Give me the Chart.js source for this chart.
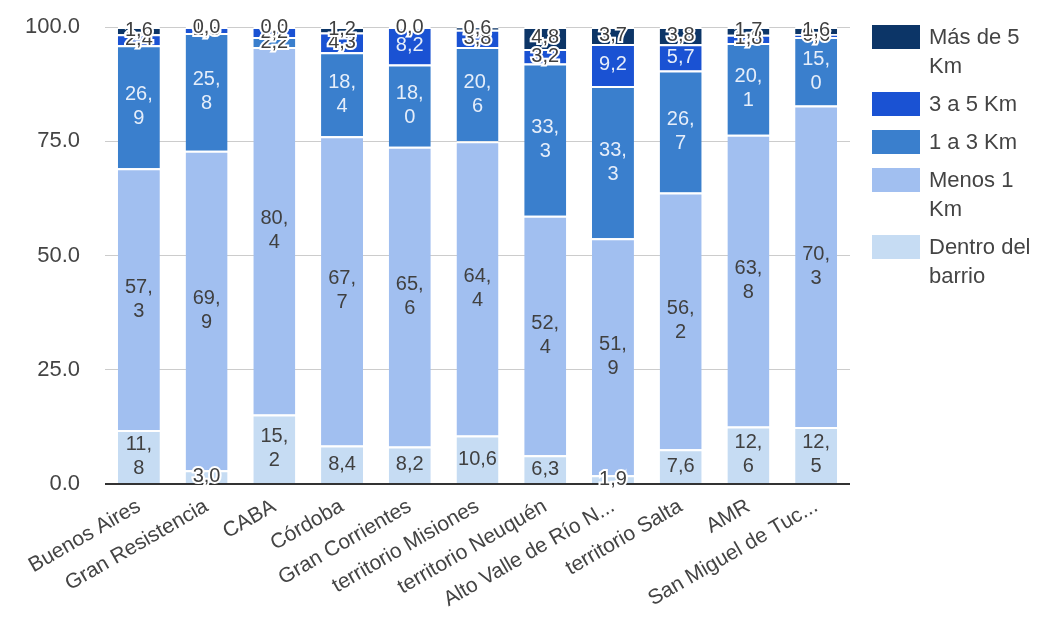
<!DOCTYPE html>
<html>
<head>
<meta charset="utf-8">
<script src="https://cdn.jsdelivr.net/npm/chart.js@4"></script>
<style>
  html, body { margin: 0; padding: 0; background: #fff; }
  #wrap { position: relative; width: 1043px; height: 620px; }
  #legend { position: absolute; left: 872px; top: 22px; width: 170px;
    font-family: "Liberation Sans", Arial, sans-serif; font-size: 22px; color: #444; }
  .item { display: flex; align-items: flex-start; margin-bottom: 9px; }
  .box { width: 48px; height: 24px; margin-top: 3px; margin-right: 9px; flex: none; }
  .txt { width: 112px; line-height: 29px; }
</style>
</head>
<body>
<div id="wrap">
  <canvas id="myChart" width="1043" height="620"></canvas>
  <div id="legend"></div>
</div>
<script>
const categories = ['Buenos Aires', 'Gran Resistencia', 'CABA', 'Córdoba', 'Gran Corrientes',
  'territorio Misiones', 'territorio Neuquén', 'Alto Valle de Río N...', 'territorio Salta',
  'AMR', 'San Miguel de Tuc...'];

const dentroBarrio = [11.8, 3.0, 15.2, 8.4, 8.2, 10.6, 6.3, 1.9, 7.6, 12.6, 12.5];
const menos1Km     = [57.3, 69.9, 80.4, 67.7, 65.6, 64.4, 52.4, 51.9, 56.2, 63.8, 70.3];
const de1a3Km      = [26.9, 25.8, 2.2, 18.4, 18.0, 20.6, 33.3, 33.3, 26.7, 20.1, 15.0];
const de3a5Km      = [2.4, 1.3, 2.2, 4.3, 8.2, 3.8, 3.2, 9.2, 5.7, 1.8, 0.6];
const masDe5Km     = [1.6, 0.0, 0.0, 1.2, 0.0, 0.6, 4.8, 3.7, 3.8, 1.7, 1.6];

const yTicks = [0, 25, 50, 75, 100];

const FONT = '"Liberation Sans", Arial, sans-serif';

// label drawing, values with comma decimals like the original
const segmentLabels = {
  id: 'segmentLabels',
  afterDatasetsDraw(chart) {
    const c = chart.ctx;
    c.save();
    c.font = '20px ' + FONT;
    c.textAlign = 'center';
    c.textBaseline = 'middle';
    chart.data.datasets.forEach((ds, i) => {
      const meta = chart.getDatasetMeta(i);
      meta.data.forEach((bar, j) => {
        const v = ds.data[j];
        const txt = v.toFixed(1).replace('.', ',');
        const h = Math.abs(bar.base - bar.y);
        const cy = (bar.y + bar.base) / 2;
        let lines = [txt];
        if (c.measureText(txt).width > bar.width - 6 && h > 50) {
          const p = txt.split(',');
          lines = [p[0] + ',', p[1]];
        }
        const small = h < 22;
        const col = ds.labelColor;
        lines.forEach((ln, k) => {
          const y = cy + (k - (lines.length - 1) / 2) * 24;
          if (small) {
            c.lineWidth = 4;
            c.strokeStyle = '#fff';
            c.strokeText(ln, bar.x, y);
            c.fillStyle = '#404040';
          } else {
            c.fillStyle = col;
          }
          c.fillText(ln, bar.x, y);
        });
      });
    });
    c.restore();
  }
};

const datasets = [
  { label: 'Dentro del barrio', data: dentroBarrio, backgroundColor: '#c6dcf3', labelColor: '#404040' },
  { label: 'Menos 1 Km', data: menos1Km, backgroundColor: '#a1bff0', labelColor: '#404040' },
  { label: '1 a 3 Km', data: de1a3Km, backgroundColor: '#3a7fcd', labelColor: '#e6eefa' },
  { label: '3 a 5 Km', data: de3a5Km, backgroundColor: '#1a52d3', labelColor: '#e6eefa' },
  { label: 'Más de 5 Km', data: masDe5Km, backgroundColor: '#0c3567', labelColor: '#e6eefa' }
];
datasets.forEach(d => {
  d.borderColor = '#fff';
  d.borderWidth = { top: 2, bottom: 0, left: 0, right: 0 };
  d.borderSkipped = false;
  d.barPercentage = 0.62;
  d.categoryPercentage = 1.0;
});

const ctx = document.getElementById('myChart');
const myChart = new Chart(ctx, {
  type: 'bar',
  data: { labels: categories, datasets: datasets },
  plugins: [segmentLabels],
  options: {
    responsive: false,
    animation: false,
    layout: { padding: { top: 27, right: 193, left: 0, bottom: 0 } },
    plugins: { legend: { display: false }, tooltip: { enabled: false } },
    scales: {
      x: {
        stacked: true,
        grid: { display: false },
        border: { display: false },
        ticks: {
          color: '#444', font: { family: FONT, size: 21 },
          maxRotation: 30, minRotation: 30, autoSkip: false, padding: 2
        },
        afterFit(scale) { scale.height = 136; scale.paddingLeft = 0; scale.paddingRight = 0; }
      },
      y: {
        stacked: true,
        min: 0, max: 100,
        afterBuildTicks(scale) { scale.ticks = yTicks.map(v => ({ value: v })); },
        ticks: {
          color: '#444', font: { family: FONT, size: 22 }, padding: 25,
          callback: v => v.toFixed(1)
        },
        grid: {
          drawTicks: false,
          color: c => c.tick.value === 0 ? '#333' : '#cccccc',
          lineWidth: c => c.tick.value === 0 ? 2 : 1
        },
        border: { display: false },
        afterFit(scale) { scale.width = 105; scale.paddingTop = 0; scale.paddingBottom = 0; }
      }
    }
  }
});

// legend on the right, top series first
const leg = document.getElementById('legend');
datasets.slice().reverse().forEach(d => {
  const it = document.createElement('div');
  it.className = 'item';
  it.innerHTML = '<div class="box" style="background:' + d.backgroundColor + '"></div><div class="txt">' + d.label + '</div>';
  leg.appendChild(it);
});
</script>
</body>
</html>
